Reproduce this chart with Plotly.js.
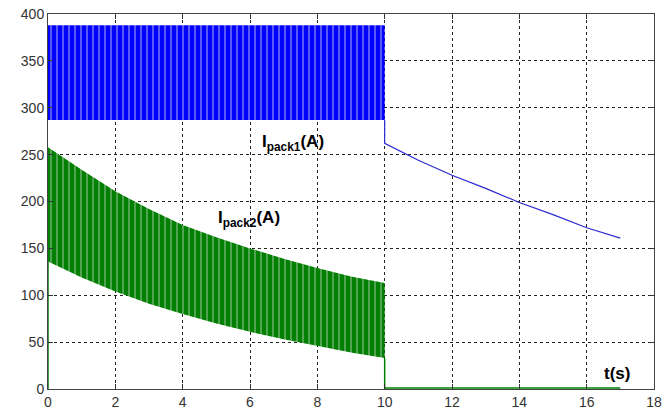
<!DOCTYPE html>
<html>
<head>
<meta charset="utf-8">
<script src="https://cdn.plot.ly/plotly-3.0.1.min.js"></script>
<style>html,body{margin:0;padding:0;background:#fff;}#chart{width:662px;height:412px;}</style>
</head>
<body>
<div id="chart"></div>
<script>
// Envelope sample times (s) for the switching phase
var tBand = [0, 1, 2, 3, 4, 5, 6, 7, 8, 9, 10];
// I_pack1 ripple band (A)
var pack1Upper = [388, 388, 388, 388, 388, 388, 388, 388, 388, 388, 388];
var pack1Lower = [287, 287, 287, 287, 287, 287, 287, 287, 287, 287, 287];
// I_pack2 ripple band (A)
var pack2Upper = [258, 234, 211, 192, 175, 162, 150, 139, 129, 120, 113];
var pack2Lower = [136, 119, 104, 91, 80, 70, 61, 53, 46, 39, 33];
// After 10 s: I_pack1 alone, I_pack2 ~ 0
var tAfter = [10, 11, 12, 13, 14, 15, 16, 17];
var pack1After = [262, 244, 228, 214, 199, 186, 172, 161];
var pack2After = [1, 1, 1, 1, 1, 1, 1, 1];

var xTicks = [0, 2, 4, 6, 8, 10, 12, 14, 16, 18];
var yTicks = [0, 50, 100, 150, 200, 250, 300, 350, 400];

var labels = [
  {text: 'I<sub>pack1</sub>(A)', x: 7.28, y: 262},
  {text: 'I<sub>pack2</sub>(A)', x: 5.97, y: 181},
  {text: 't(s)', x: 16.9, y: 17}
];

function band(upper, lower) {
  var xs = tBand.slice().concat(tBand.slice().reverse());
  var ys = upper.slice().concat(lower.slice().reverse());
  return {x: xs, y: ys};
}

var b1 = band(pack1Upper, pack1Lower);
var b2 = band(pack2Upper, pack2Lower);

var traces = [
  {
    x: b2.x, y: b2.y, type: 'scatter', mode: 'lines', fill: 'toself',
    fillcolor: '#007f00',
    fillpattern: {shape: '|', bgcolor: '#007f00', fgcolor: '#a8cca8', size: 6, solidity: 0.16},
    line: {color: '#007f00', width: 0}, hoverinfo: 'skip', showlegend: false
  },
  {
    x: [0, 0], y: [0, pack2Lower[0]], type: 'scatter', mode: 'lines',
    line: {color: '#008000', width: 1.5}, hoverinfo: 'skip', showlegend: false
  },
  {
    x: [10, 10].concat(tAfter), y: [pack2Lower[10], 0].concat(pack2After),
    type: 'scatter', mode: 'lines',
    line: {color: '#008000', width: 1.5}, hoverinfo: 'skip', showlegend: false
  },
  {
    x: b1.x, y: b1.y, type: 'scatter', mode: 'lines', fill: 'toself',
    fillcolor: '#0000ff',
    fillpattern: {shape: '|', bgcolor: '#0000ff', fgcolor: '#b8b8ee', size: 6, solidity: 0.16},
    line: {color: '#0000ff', width: 0}, hoverinfo: 'skip', showlegend: false
  },
  {
    x: [10].concat(tAfter), y: [pack1Lower[10]].concat(pack1After),
    type: 'scatter', mode: 'lines',
    line: {color: '#2a2ad0', width: 1.2}, hoverinfo: 'skip', showlegend: false
  }
];

var axisCommon = {
  showgrid: true, gridcolor: '#222', griddash: '3px,3px', gridwidth: 1,
  zeroline: false, showline: true, linecolor: '#444', linewidth: 1, mirror: 'ticks',
  ticks: 'inside', ticklen: 5, tickcolor: '#333',
  tickfont: {family: 'Liberation Sans, Arial, sans-serif', size: 14, color: '#333'}
};

var layout = {
  width: 662, height: 412,
  margin: {l: 48, r: 8, t: 14, b: 23},
  paper_bgcolor: '#fff', plot_bgcolor: '#fff',
  xaxis: Object.assign({}, axisCommon, {range: [0, 18], tickvals: xTicks, ticktext: xTicks.map(String)}),
  yaxis: Object.assign({}, axisCommon, {range: [0, 400], tickvals: yTicks, ticktext: yTicks.map(String)}),
  annotations: labels.map(function (a) {
    return {
      text: '<b>' + a.text + '</b>', x: a.x, y: a.y, xref: 'x', yref: 'y', showarrow: false,
      font: {family: 'Liberation Sans, Arial, sans-serif', size: 17, color: '#000'}
    };
  })
};

Plotly.newPlot('chart', traces, layout, {staticPlot: true, displayModeBar: false});
</script>
</body>
</html>
